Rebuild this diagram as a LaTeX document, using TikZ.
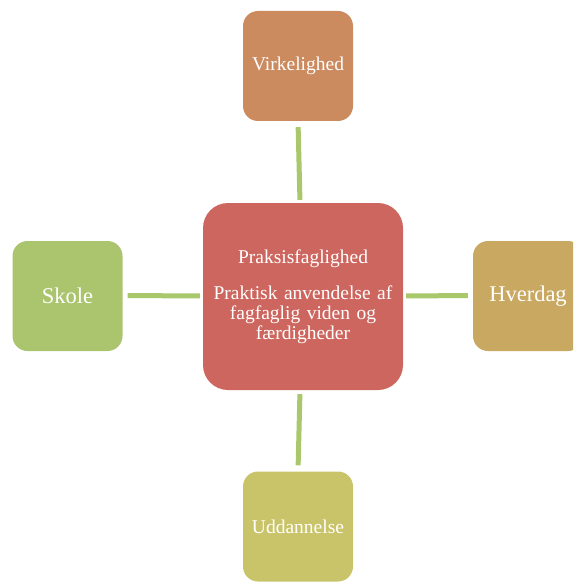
\documentclass[tikz,border=0pt]{standalone}
\usepackage{fontspec}
\setmainfont{Liberation Serif}
\definecolor{cCenter}{HTML}{CD665F}
\definecolor{cTop}{HTML}{CC8A5F}
\definecolor{cRight}{HTML}{C9A862}
\definecolor{cLeft}{HTML}{ABC46E}
\definecolor{cBottom}{HTML}{C9C46A}
\definecolor{cLine}{HTML}{A9C86C}
\tikzset{
  box/.style={rounded corners=15pt, minimum width=110pt, minimum height=110pt, inner sep=1pt,
    text=white, font=\fontsize{19.5}{22}\selectfont, align=center},
  link/.style={draw=cLine, line width=5pt}
}
\begin{document}
\begin{tikzpicture}[x=1pt,y=-1pt]
\useasboundingbox (0,0) rectangle (573,583);
\begin{scope}
\clip (0,0) rectangle (573,583);
\node[box, fill=cCenter, minimum width=200pt, minimum height=187pt, rounded corners=25pt,
  font=\fontsize{19.5}{20}\selectfont, text width=198pt] (center) at (303,296.5)
  {Praksisfaglighed\\[16pt]Praktisk anvendelse af\\fagfaglig viden og\\færdigheder};
\node[box, fill=cTop] (top) at (298,66) {Virkelighed};
\node[box, fill=cLeft, font=\fontsize{22.5}{24}\selectfont] (left) at (67.5,296) {Skole};
\node[box, fill=cRight, font=\fontsize{22.5}{24}\selectfont] (right) at (528,296) {Hverdag};
\node[box, fill=cBottom] (bottom) at (298,526.5) {Uddannelse};
\draw[link, shorten <=6pt, shorten >=3pt] (top.south) -- ([xshift=-3pt]center.north);
\draw[link, shorten <=4pt, shorten >=6pt] ([xshift=-3pt]center.south) -- (bottom.north);
\draw[link, shorten <=5pt, shorten >=3pt] ([yshift=0.5pt]left.east) -- ([yshift=0.5pt]center.west);
\draw[link, shorten <=3pt, shorten >=5pt] ([yshift=0.5pt]center.east) -- ([yshift=0.5pt]right.west);
\end{scope}
\end{tikzpicture}
\end{document}
